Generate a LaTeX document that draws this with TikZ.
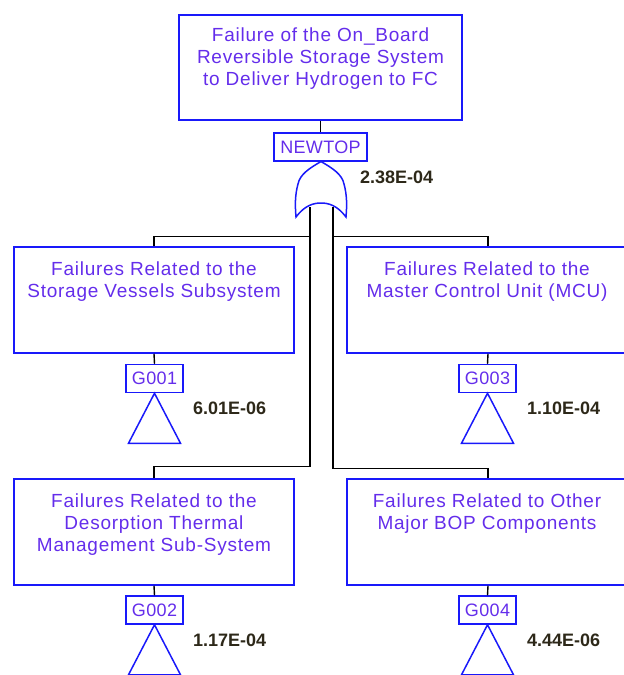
\documentclass[tikz,border=0pt]{standalone}
\usepackage{fontspec}
\setmainfont{Liberation Sans}
\definecolor{boxblue}{RGB}{25,25,250}
\definecolor{txtpurple}{RGB}{100,45,235}
\definecolor{numcol}{RGB}{45,40,25}
\begin{document}
\begin{tikzpicture}[x=1pt,y=-1pt,
  evbox/.style={draw=boxblue, line width=1.5pt, minimum height=106pt, inner sep=0pt},
  evtext/.style={text=txtpurple, font=\fontsize{19}{22}\selectfont\addfontfeature{LetterSpace=4}, align=center, anchor=north, inner sep=0pt},
  idbox/.style={draw=boxblue, line width=1.5pt, text=txtpurple, font=\fontsize{18}{20}\selectfont\addfontfeature{LetterSpace=2}, inner sep=0pt, minimum height=28pt},
  prob/.style={text=numcol, font=\fontsize{18}{20}\selectfont\bfseries, anchor=west, inner sep=0pt},
  conn/.style={draw=black, line width=1.4pt},
  gatelin/.style={draw=boxblue, line width=1.5pt, fill=white},
  trilin/.style={draw=boxblue, line width=1.5pt}]
\useasboundingbox (0,0) rectangle (624,675);

% top event
\node[evbox, minimum width=283pt, minimum height=105pt] (top) at (320.5,67.5) {};
\node[evtext] (toptxt) at (320.5,28) {Failure of the On\_Board\\Reversible Storage System\\to Deliver Hydrogen to FC};
\node[idbox, minimum width=93pt] (newtop) at (320.5,147) {NEWTOP};
\draw[conn] (top.south) -- (newtop.north);
\node[prob] (p0) at (360,177) {2.38E-04};

% OR gate
\coordinate (gtop) at (321,161.5);
\coordinate (gL) at (310,207);
\coordinate (gR) at (333,207);
\draw[conn] (gL) -- (310,212);
\draw[conn] (gR) -- (333,212);
\draw[gatelin] (gtop) .. controls (310,168) and (300,174) .. (298,184)
  .. controls (295,195) and (295,205) .. (296,217)
  .. controls (305,205) and (314,203) .. (321,203)
  .. controls (328,203) and (337,205) .. (346,217)
  .. controls (347,205) and (347,195) .. (344,184)
  .. controls (342,174) and (332,168) .. (gtop) -- cycle;

% row 1
\node[evbox, minimum width=280pt] (b1) at (154,300) {};
\node[evtext] (b1txt) at (154,262) {Failures Related to the\\Storage Vessels Subsystem};
\node[idbox, minimum width=57pt] (g1) at (154.5,378.5) {G001};
\draw[conn] (b1.south) -- (g1.north);
\draw[trilin] (g1.south) -- ++(-26,50) -- ++(52,0) -- cycle;
\node[prob] (p1) at (193,408) {6.01E-06};

\node[evbox, minimum width=282pt] (b2) at (488,300) {};
\node[evtext] (b2txt) at (487,262) {Failures Related to the\\Master Control Unit (MCU)};
\node[idbox, minimum width=57pt] (g3) at (487.5,378.5) {G003};
\draw[conn] (b2.south) -- (g3.north);
\draw[trilin] (g3.south) -- ++(-26,50) -- ++(52,0) -- cycle;
\node[prob] (p3) at (527,408) {1.10E-04};

% row 2
\node[evbox, minimum width=280pt] (b3) at (154,532) {};
\node[evtext] (b3txt) at (154,494) {Failures Related to the\\Desorption Thermal\\Management Sub-System};
\node[idbox, minimum width=57pt] (g2) at (154.5,610) {G002};
\draw[conn] (b3.south) -- (g2.north);
\draw[trilin] (g2.south) -- ++(-26,50) -- ++(52,0) -- cycle;
\node[prob] (p2) at (193,640) {1.17E-04};

\node[evbox, minimum width=282pt] (b4) at (488,532) {};
\node[evtext] (b4txt) at (487,494) {Failures Related to Other\\Major BOP Components};
\node[idbox, minimum width=57pt] (g4) at (487.5,610) {G004};
\draw[conn] (b4.south) -- (g4.north);
\draw[trilin] (g4.south) -- ++(-26,50) -- ++(52,0) -- cycle;
\node[prob] (p4) at (527,640) {4.44E-06};

% connectors from gate
\draw[conn] (b1.north) -- ++(0,-10) -| (gL);
\draw[conn] (b3.north) -- ++(0,-12) -| (gL);
\draw[conn] (b2.north) -- ++(0,-10) -| (gR);
\draw[conn] (b4.north) -- ++(0,-10) -| (gR);
\end{tikzpicture}
\end{document}
